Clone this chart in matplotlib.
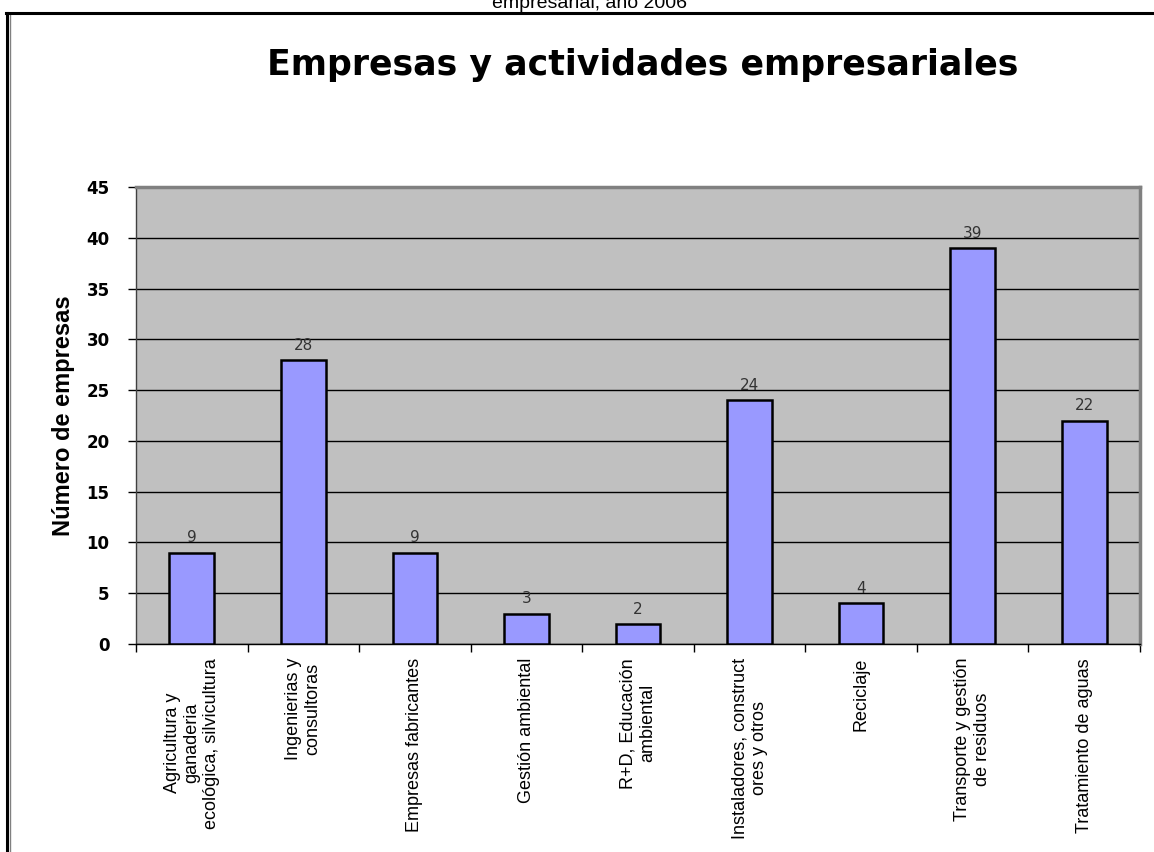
import matplotlib
matplotlib.use('Agg')
import matplotlib.pyplot as plt
from matplotlib.lines import Line2D

categories = ['Agricultura y\nganaderia\necológica, silvicultura', 'Ingenierias y\nconsultoras',
              'Empresas fabricantes', 'Gestión ambiental', 'R+D, Educación\nambiental',
              'Instaladores, construct\nores y otros', 'Reciclaje', 'Transporte y gestión\nde residuos',
              'Tratamiento de aguas']
values = [9, 28, 9, 3, 2, 24, 4, 39, 22]
yticks = [0, 5, 10, 15, 20, 25, 30, 35, 40, 45]

plt.rcParams['font.family'] = ['Liberation Sans', 'DejaVu Sans']

W, H = 1154, 852
fig = plt.figure(figsize=(W / 100, H / 100), dpi=100)
ax = fig.add_axes([136 / W, 1 - 644 / H, (1140 - 136) / W, (644 - 187) / H])
ax.set_facecolor('#C0C0C0')

x = list(range(len(values)))
ax.bar(x, values, 0.4, color='#9999FF', edgecolor='black', linewidth=1.8, zorder=3)
for xi, v in zip(x, values):
  ax.text(xi, v + 0.7, str(v), ha='center', va='bottom', fontsize=11, color='#333333',
          family='DejaVu Sans', zorder=4)

ax.set_xlim(-0.5, len(values) - 0.5)
ax.set_ylim(0, 45)
ax.set_yticks(yticks)
ax.set_yticklabels([str(t) for t in yticks], fontsize=12, fontweight='bold', family='DejaVu Sans')
ax.yaxis.grid(True, color='black', lw=1)
ax.set_axisbelow(True)

# ticks at category boundaries, labels in the middle
ax.set_xticks([i - 0.5 for i in range(len(values) + 1)])
ax.set_xticklabels([])
ax.set_xticks(x, minor=True)
ax.set_xticklabels(categories, minor=True, rotation=90, ha='center', va='top',
                   multialignment='center', fontsize=13)
ax.tick_params(axis='x', which='minor', length=0, pad=10)
ax.tick_params(axis='x', which='major', direction='out', length=6, width=1, color='black')
ax.tick_params(axis='y', direction='out', length=6, width=1, color='black', pad=13)

for side in ['top', 'right']:
  ax.spines[side].set_color('#808080')
  ax.spines[side].set_linewidth(2.5)
ax.spines['left'].set_color('#404040')
ax.spines['bottom'].set_color('black')
ax.spines['left'].set_linewidth(1)
ax.spines['bottom'].set_linewidth(1)

ax.set_ylabel('Número de empresas', fontsize=17, fontweight='bold', labelpad=8)

fig.text(643 / W, 1 - 65 / H, 'Empresas y actividades empresariales', ha='center', va='center',
         fontsize=25, fontweight='bold', family='DejaVu Sans')

# caption line above the frame, cut by the page edge as in the source
fig.text(590 / W, 1 - 8 / H, 'empresarial, año 2006', ha='center', va='baseline', fontsize=14)

# document frame
fig.add_artist(Line2D([7 / W, 7 / W], [0, 1 - 13 / H], color='black', lw=2.2))
fig.add_artist(Line2D([10 / W, 10 / W], [0, 1 - 15 / H], color='#808080', lw=1))
fig.add_artist(Line2D([6 / W, 1], [1 - 13 / H, 1 - 13 / H], color='black', lw=2.2))

plt.savefig('out.png', dpi=100)
